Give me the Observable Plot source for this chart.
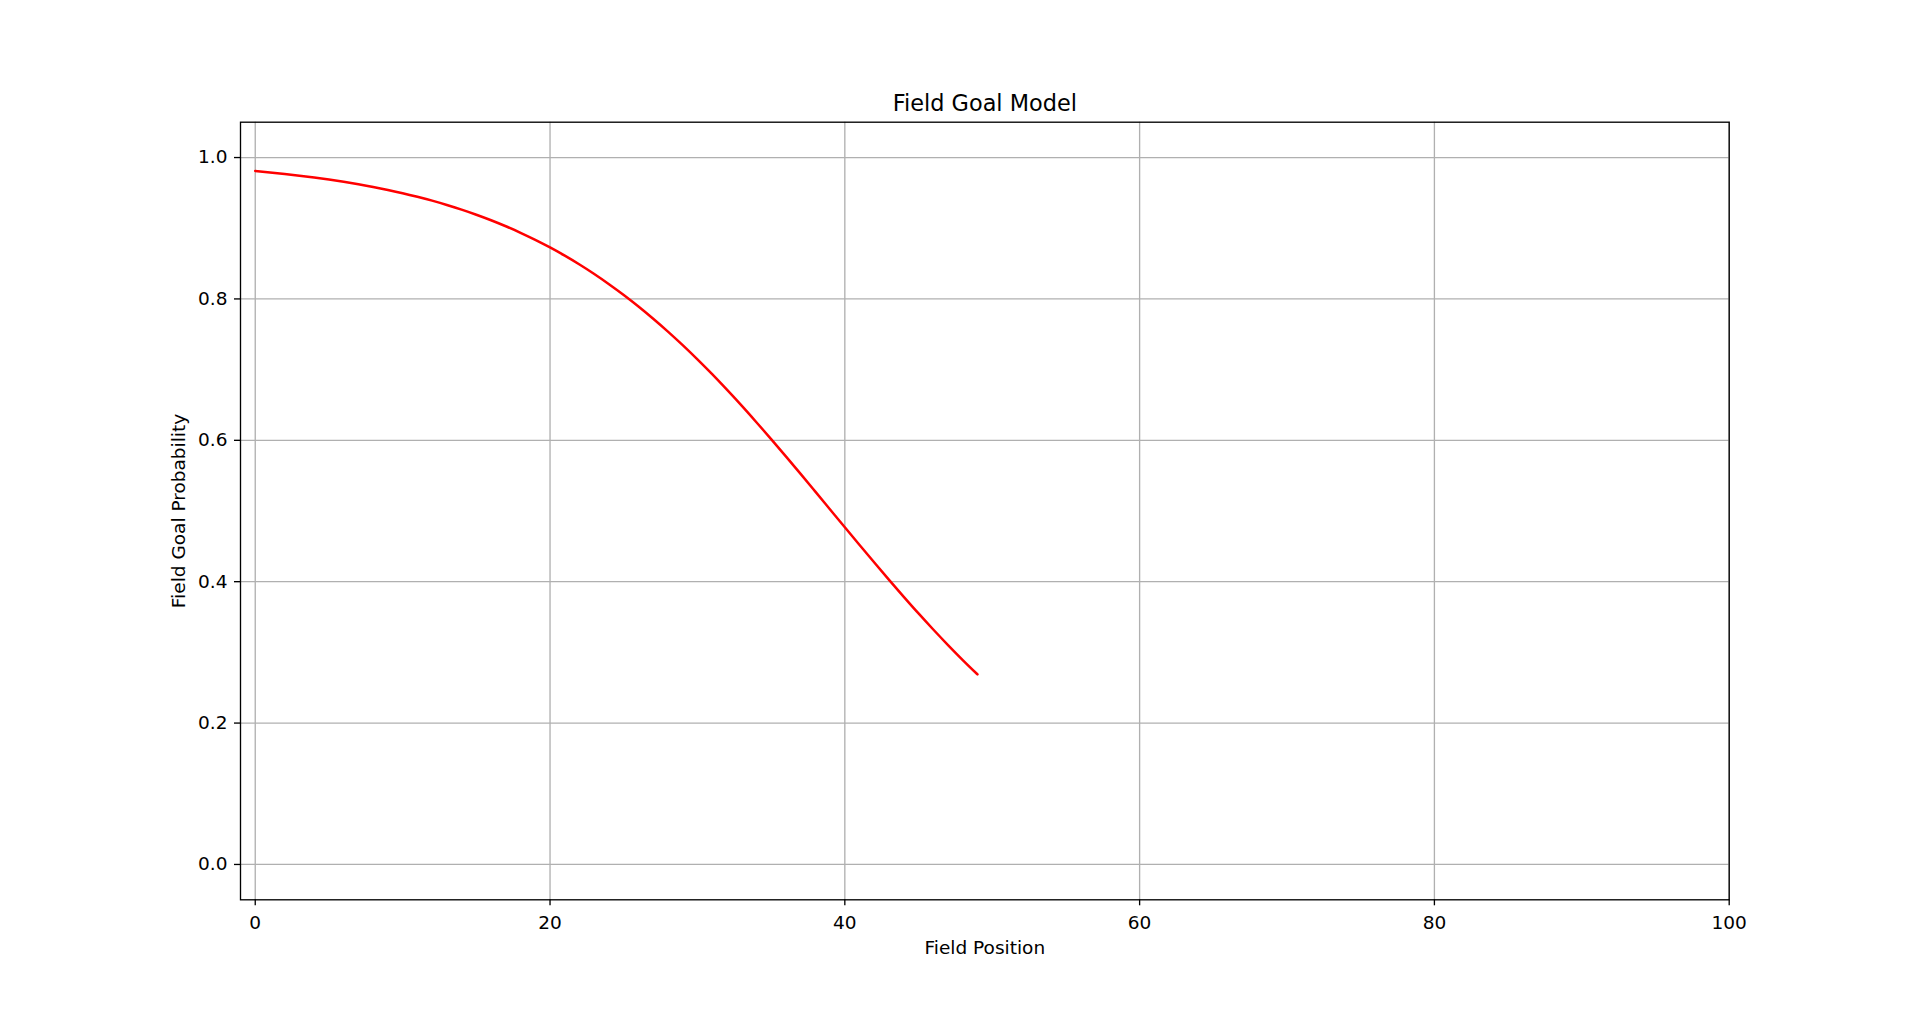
<!DOCTYPE html>
<html>
<head>
<meta charset="utf-8">
<script src="https://cdn.jsdelivr.net/npm/d3@7"></script>
<script src="https://cdn.jsdelivr.net/npm/@observablehq/plot@0.6"></script>
<style>
  html, body { margin: 0; padding: 0; background: #fff; }
  #chart svg { display: block; }
</style>
</head>
<body>
<div id="chart"></div>
<script>
const titleText = "Field Goal Model";
const xLabel = "Field Position";
const yLabel = "Field Goal Probability";

const xTicks = [0, 20, 40, 60, 80, 100];
const yTicks = [0.0, 0.2, 0.4, 0.6, 0.8, 1.0];

const fieldPosition = [
  0, 1, 2, 3, 4, 5, 6, 7, 8, 9,
  10, 11, 12, 13, 14, 15, 16, 17, 18, 19,
  20, 21, 22, 23, 24, 25, 26, 27, 28, 29,
  30, 31, 32, 33, 34, 35, 36, 37, 38, 39,
  40, 41, 42, 43, 44, 45, 46, 47, 48, 49
];
const probability = [
  0.9810, 0.9790, 0.9768, 0.9744, 0.9718, 0.9689, 0.9657, 0.9622, 0.9584, 0.9542,
  0.9496, 0.9445, 0.9390, 0.9329, 0.9263, 0.9191, 0.9113, 0.9028, 0.8936, 0.8836,
  0.8728, 0.8612, 0.8487, 0.8353, 0.8209, 0.8056, 0.7893, 0.7720, 0.7538, 0.7346,
  0.7145, 0.6935, 0.6716, 0.6490, 0.6256, 0.6017, 0.5773, 0.5525, 0.5274, 0.5022,
  0.4770, 0.4520, 0.4271, 0.4026, 0.3786, 0.3551, 0.3324, 0.3104, 0.2892, 0.2689
];

const data = fieldPosition.map((x, i) => ({x, y: probability[i]}));

const W = 1920, H = 1011;
const mL = 240, mR = 191.3, mT = 121.7, mB = 111.7;
const fs = 18.5;

const chart = Plot.plot({
  width: W,
  height: H,
  marginLeft: mL,
  marginRight: mR,
  marginTop: mT,
  marginBottom: mB,
  style: {fontFamily: "DejaVu Sans", fontSize: fs + "px", color: "black", background: "white"},
  x: {domain: [-1, 100], nice: false, label: null},
  y: {domain: [-0.05, 1.05], nice: false, label: null},
  marks: [
    Plot.gridX(xTicks, {stroke: "#b0b0b0", strokeOpacity: 1, strokeWidth: 1.33}),
    Plot.gridY(yTicks, {stroke: "#b0b0b0", strokeOpacity: 1, strokeWidth: 1.33}),
    Plot.line(data, {x: "x", y: "y", stroke: "red", strokeWidth: 2.5, curve: "monotone-x"}),
    Plot.frame({stroke: "black", strokeWidth: 1.33}),
    Plot.axisX({ticks: xTicks, tickSize: 6, tickPadding: 10, strokeWidth: 1.33, tickFormat: d3.format("d"), label: null}),
    Plot.axisY({ticks: yTicks, tickSize: 6, tickPadding: 7, strokeWidth: 1.33, tickFormat: d3.format(".1f"), label: null}),
    Plot.text([titleText], {frameAnchor: "top", dy: -18.5, lineAnchor: "middle", fontSize: 22.4, fill: "black"}),
    Plot.text([xLabel], {frameAnchor: "bottom", dy: 48.2, lineAnchor: "middle", fontSize: fs, fill: "black"}),
    Plot.text([yLabel], {frameAnchor: "left", dx: -61, rotate: -90, lineAnchor: "middle", textAnchor: "middle", fontSize: fs, fill: "black"})
  ]
});
document.getElementById("chart").appendChild(chart);
</script>
</body>
</html>
